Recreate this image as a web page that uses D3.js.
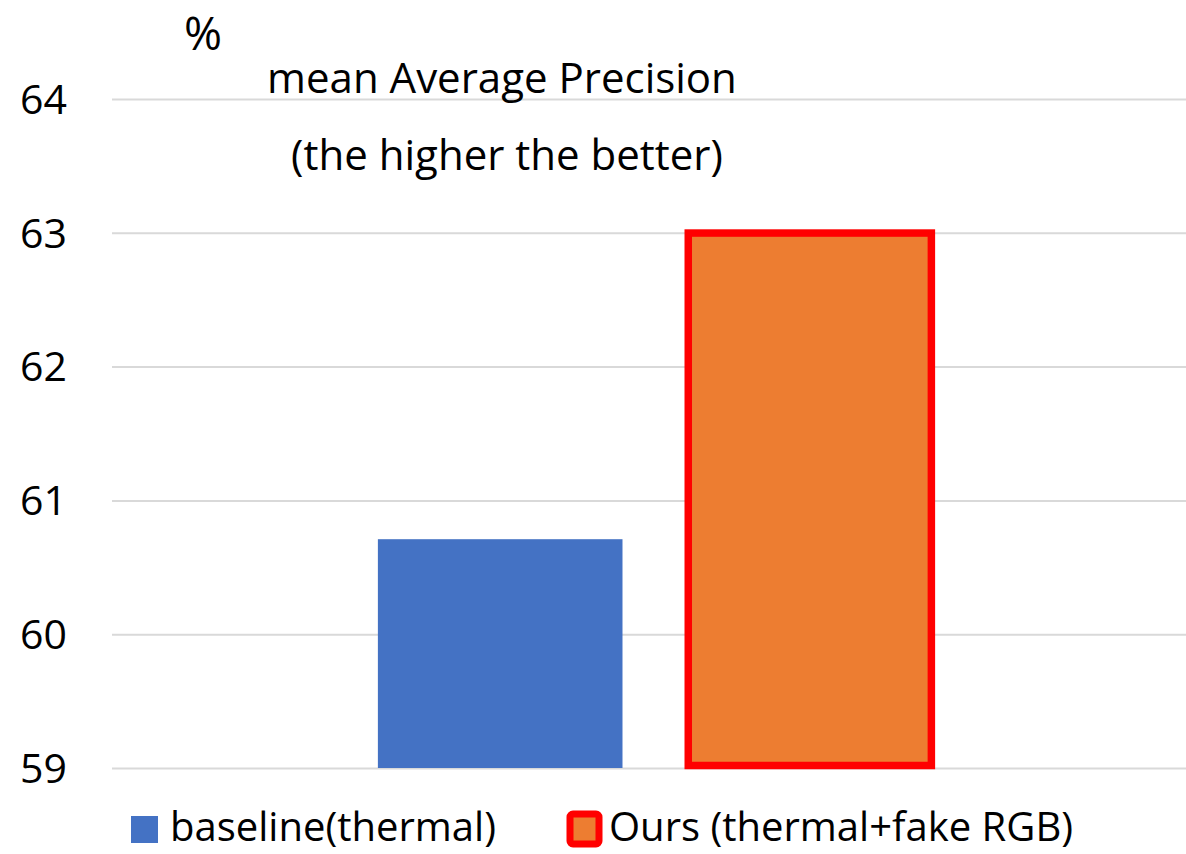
<!DOCTYPE html>
<html><head><meta charset="utf-8">
<script src="https://cdn.jsdelivr.net/npm/d3@7/dist/d3.min.js"></script>
<style>body{margin:0;background:#fff}svg{display:block}text{font-family:"Open Sans","Noto Sans",sans-serif;fill:#000}</style>
</head><body><svg id="c" width="1186" height="854"></svg>
<script>
const categories = ["mAP"];
const seriesNames = ["baseline(thermal)", "Ours (thermal+fake RGB)"];
const seriesValues = [60.71, 63.0];
const yTicks = [59, 60, 61, 62, 63, 64];
const titleLines = ["mean Average Precision", "(the higher the better)"];
const unitLabel = "%";

const fills = ["#4472c4", "#ed7d31"];
const strokes = [null, "#ff0000"];

const svg = d3.select("#c");
const y = d3.scaleLinear().domain([59, 64]).range([768, 99]);
const x0 = d3.scaleBand().domain(categories).range([112, 1200]).paddingInner(0).paddingOuter(0.478);
const x1 = d3.scaleBand().domain(seriesNames).range([0, x0.bandwidth()]).paddingInner(0.2035).paddingOuter(0);

// gridlines + tick labels
const yAxis = d3.axisLeft(y).tickValues(yTicks).tickSize(-(1200 - 112)).tickFormat(d3.format("d")).tickPadding(45);
const gA = svg.append("g").attr("transform", "translate(112,0)").call(yAxis);
gA.select(".domain").remove();
gA.selectAll(".tick line").attr("stroke", "#d9d9d9").attr("stroke-width", 2);
gA.selectAll(".tick text").style("font-size", "41px").attr("fill", "#000").attr("dy", "0.35em");

// bars
const g = svg.append("g");
seriesNames.forEach((s, i) => {
  const v = seriesValues[i];
  const bx = x0(categories[0]) + x1(s);
  const bw = x1.bandwidth();
  if (strokes[i]) {
    const sw = 7.5;
    g.append("rect")
      .attr("x", bx + sw / 2 - 3).attr("y", y(v) + sw / 2 - 3.5)
      .attr("width", bw - sw + 4).attr("height", y(59) - y(v) - sw / 2 + 1)
      .attr("fill", fills[i]).attr("stroke", strokes[i]).attr("stroke-width", sw);
  } else {
    g.append("rect")
      .attr("x", bx).attr("y", y(v))
      .attr("width", bw - 2).attr("height", y(59) - y(v))
      .attr("fill", fills[i]);
  }
});

// title
svg.append("text").attr("x", 502).attr("y", 93).attr("text-anchor", "middle").style("font-size", "42px").text(titleLines[0]);
svg.append("text").attr("x", 507).attr("y", 170).attr("text-anchor", "middle").style("font-size", "42px").text(titleLines[1]);
svg.append("text").attr("x", 203).attr("y", 50).attr("text-anchor", "middle").style("font-size", "46px").text(unitLabel);

// legend
const lg = svg.append("g");
lg.append("rect").attr("x", 131).attr("y", 816).attr("width", 27).attr("height", 27).attr("fill", fills[0]);
lg.append("text").attr("x", 170).attr("y", 841).style("font-size", "40px").text(seriesNames[0]);
lg.append("rect").attr("x", 570).attr("y", 814).attr("width", 29).attr("height", 30).attr("rx", 3)
  .attr("fill", fills[1]).attr("stroke", strokes[1]).attr("stroke-width", 7);
lg.append("text").attr("x", 609).attr("y", 841).style("font-size", "40px").text(seriesNames[1]);
</script></body></html>
